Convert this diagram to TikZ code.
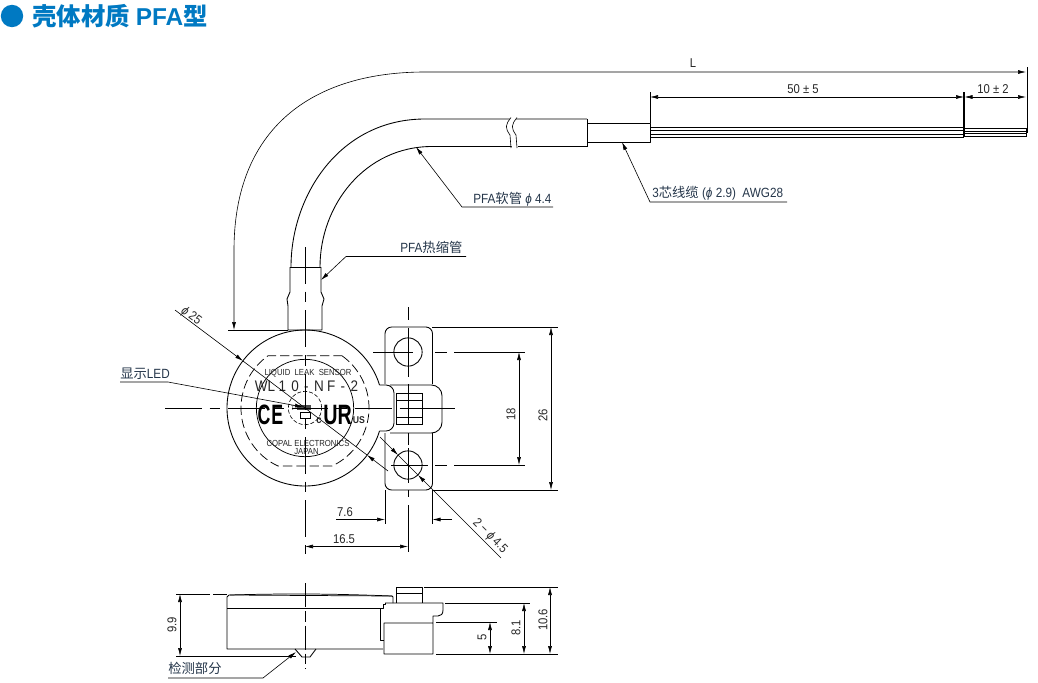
\documentclass[tikz,border=0pt]{standalone}
\usepackage{fontspec}
\setmainfont{Liberation Sans}[FakeStretch=0.88]
\newfontfamily\titlefont{Liberation Sans}
\newfontfamily\cjk{Noto Sans CJK SC}
\usetikzlibrary{arrows.meta}
\definecolor{brand}{HTML}{0079C2}
\definecolor{labelink}{HTML}{25364A}
\newcommand{\phisym}{\textit{ϕ}}
\tikzset{
  part/.style={draw=black,line width=0.65pt,line join=round},
  thin part/.style={draw=black,line width=0.45pt},
  dimline/.style={draw=black,line width=0.45pt},
  dimboth/.style={dimline,{Latex[length=6pt,width=3pt]}-{Latex[length=6pt,width=3pt]}},
  dimend/.style={dimline,-{Latex[length=6pt,width=3pt]}},
  centerline/.style={draw=black,line width=0.45pt,dash pattern=on 27.5pt off 6pt on 8pt off 6pt},
  hidden/.style={draw=black,line width=0.55pt,dash pattern=on 7pt off 3pt},
  lbl/.style={text=labelink,font=\fontsize{10}{10}\selectfont,inner sep=0pt},
  dimtxt/.style={text=black!85,font=\fontsize{9.6}{10}\selectfont,inner sep=0pt},
  sensortext/.style={text=black!85,font=\fontsize{6.6}{7}\selectfont,inner sep=0pt}
}
\begin{document}
\begin{tikzpicture}[x=0.75pt,y=-0.75pt]
\useasboundingbox (0,0) rectangle (1038,682);
% title
\fill[brand] (12,16) circle (8.4pt);
\node[anchor=west,text=brand,inner sep=0pt,font=\fontsize{18.3}{20}\selectfont\bfseries] (title) at (32,16) {{\cjk 壳体材质} {\titlefont PFA}{\cjk 型}};

% outer L dimension
\draw[dimline,{Latex[length=6pt,width=3pt]}-{Latex[length=6pt,width=3pt]}] (234,330) -- (234,250) .. controls (234,130) and (310,72) .. (425,72) -- (1026,72);
\draw[dimline] (228,330) -- (288,330);
\draw[dimline] (1027,67) -- (1027,133);
\node[dimtxt] (tL) at (693,63) {L};

% cable
\draw[part] (291,267) .. controls (291,195) and (340,119) .. (425,119) -- (587,119);
\draw[part] (320,267) .. controls (320,205) and (365,146.5) .. (432,146.5) -- (587,146.5);
\draw[part] (587,119) -- (587,146.5);
\fill[white] (511,117.5) .. controls (505,125) and (505,128) .. (510,135) -- (512,148) -- (518,148) -- (516,135) .. controls (511,128) and (511,125) .. (517,117.5) -- cycle;
\draw[thin part] (511,117.5) .. controls (505,125) and (505,128) .. (510,135) -- (511,148);
\draw[thin part] (517,117.5) .. controls (511,125) and (511,128) .. (516,135) -- (517,148);
\draw[part] (587,123) rectangle (650,142);
\foreach \yy in {127,130,134,137}{\draw[thin part] (650,\yy) -- (964,\yy);}
\foreach \yy in {128.5,131,133.5,136}{\draw[thin part] (964,\yy) -- (1026,\yy);}
\draw[thin part] (1026,128) -- (1026,137);
\draw[line width=0.8pt] (964,92) -- (964,137);
\draw[dimline] (650,92) -- (650,123);

% dims on cable
\draw[dimboth] (650,97) -- (964,97);
\node[dimtxt] (t50) at (803,89) {50 ± 5};
\draw[dimboth] (964.5,97) -- (1026,97);
\node[dimtxt] (t10) at (993,89) {10 ± 2};

% leaders
\node[lbl,anchor=base west] (tpfa) at (473,203) {PFA{\cjk 软管} \phisym\ 4.4};
\draw[dimend] (553,207) -- (462,207) -- (416,147);
\node[lbl,anchor=base west] (t3c) at (652,197) {3{\cjk 芯线缆} (\phisym\ 2.9)\ \ AWG28};
\draw[dimend] (787,202) -- (650,202) -- (622,142);
\node[lbl,anchor=base west] (theat) at (400,252) {PFA{\cjk 热缩管}};
\draw[dimend] (466,256.5) -- (346,256.5) -- (321,280);

% shrink tube
\draw[part] (290,267) -- (321,267);
\draw[part] (290,267) -- (290,292) .. controls (290,295) and (287,296) .. (287,299) .. controls (287,302) and (288,303) .. (288,306) -- (288,330) -- (322,330) -- (322,306) .. controls (322,303) and (324,302) .. (324,299) .. controls (324,296) and (321,295) .. (321,292) -- (321,267);

% main circle
\draw[part] plot[smooth,domain=-163:163,samples=90,variable=\t] ({305-78*cos(\t)},{408+78*sin(\t)});
\draw[thin part,line width=0.55pt] (305,408) circle (36.5pt);
\draw[hidden] plot[domain=-54.6:65,samples=40,variable=\t] ({305+64*cos(\t)},{408+64*sin(\t)}) -- plot[domain=115:234.6,samples=40,variable=\t] ({305+64*cos(\t)},{408+64*sin(\t)}) -- cycle;
\draw[thin part,dash pattern=on 3pt off 1.5pt] (305,408) circle (12.5pt);
\draw[thin part] (300,412) rectangle (310,418);
\fill[black!70] (297,405) rectangle (311,410);

% marks on label
\node[sensortext] (m1) at (308,373.5) {LIQUID\ \ LEAK\ \ SENSOR};
\node[sensortext,font=\fontsize{11.5}{12}\selectfont] (m2) at (306.5,386.5) {WL\hspace{2.5pt}1\hspace{4pt}0\hspace{4pt}-\hspace{4pt}N\hspace{2.5pt}F\hspace{4pt}-\hspace{4pt}2};
\node[inner sep=0pt,xscale=0.72,font=\fontsize{21}{22}\selectfont\bfseries] (mce) at (270.5,415) {C\hspace{1pt}E};
\node[inner sep=0pt,xscale=0.8,font=\fontsize{21}{22}\selectfont\bfseries] (mur) at (337.5,415) {UR};
\node[sensortext,font=\fontsize{8}{8}\selectfont\bfseries] (mc) at (319,421) {c};
\node[sensortext,font=\fontsize{7.4}{8}\selectfont\bfseries] (mus) at (359,420.5) {US};
\node[sensortext] (m3) at (308,443) {COPAL ELECTRONICS};
\node[sensortext] (m4) at (306.5,452) {JAPAN};
\node[sensortext,font=\fontsize{5}{5}\selectfont] (mt) at (293,408) {T};

% clip
\draw[part,rounded corners=5pt] (385,384) -- (385,327) -- (432.5,327) -- (432.5,384);
\draw[part,rounded corners=5pt] (385,433) -- (385,490) -- (432.5,490) -- (432.5,433);
\draw[part,rounded corners=6pt] (380,385) -- (394,385) -- (394,431) -- (380,431);
\draw[part,rounded corners=8pt] (390,385) -- (442,385) -- (442,433) -- (390,433);
\draw[thin part] (396,393) rectangle (422,424);
\draw[thin part] (396,400) -- (422,400);
\draw[thin part] (396,417) -- (422,417);
\draw[thin part] (400,408) -- (418,408);
\draw[part] (408,352) circle (10.6pt);
\draw[part] (408,465) circle (10.6pt);

% centre lines
\draw[centerline] (305,247) -- (305,554);
\draw[centerline] (165,408) -- (456,408);
\draw[dimline] (408,307) -- (408,320) (408,328) -- (408,377) (408,384) -- (408,425) (408,433) -- (408,445) (408,448) -- (408,483) (408,490) -- (408,497) (408,505) -- (408,552);
\draw[dimline] (373,352) -- (413,352) (435,352) -- (447,352) (454,352) -- (525,352);
\draw[dimline] (391,465) -- (428,465) (435,465) -- (447,465) (454,465) -- (525,465);

% dims of plan view
\draw[dimboth] (519,352) -- (519,465);
\node[dimtxt,rotate=90] (t18) at (511,414) {18};
\draw[dimline] (432,327) -- (558,327);
\draw[dimline] (432,490) -- (558,490);
\draw[dimboth] (551,327) -- (551,490);
\node[dimtxt,rotate=90] (t26) at (543,415) {26};
\draw[dimline] (385,490) -- (385,524);
\draw[dimline] (432.5,490) -- (432.5,524);
\draw[dimend] (336,519.5) -- (385,519.5);
\draw[dimend] (452,519.5) -- (432.5,519.5);
\node[dimtxt] (t76) at (345,512.5) {7.6};
\draw[dimboth] (305,546.5) -- (408,546.5);
\node[dimtxt] (t165) at (344,539) {16.5};

% phi 25
\coordinate (p25a) at (175,310);
\coordinate (p25t) at (243,361);
\coordinate (p25b) at (367,455);
\coordinate (p25c) at (388,471);
\draw[dimend] (p25a) -- (p25t);
\draw[dimline] (p25t) -- (p25b);
\draw[dimend] (p25c) -- (p25b);
\node[dimtxt,rotate=-37] (t25) at (191,316) {\phisym\ 25};

% phi 4.5
\coordinate (h1) at (380,437);
\coordinate (h2) at (398,455);
\coordinate (h3) at (418,475);
\coordinate (h4) at (501,558);
\draw[dimend] (h1) -- (h2);
\draw[dimline] (h2) -- (h3);
\draw[dimend] (h4) -- (h3);
\node[dimtxt,rotate=-45] (t45) at (490,536) {2 − \phisym\,4.5};

% LED leader
\node[lbl,anchor=base west] (tled) at (120,378) {{\cjk 显示}LED};
\draw[dimend] (120,382) -- (168,382) -- (303,407);

% side view
\draw[part,line width=0.55pt] (229,595) -- (392,596);
\draw[part,line width=0.55pt] (230,595) .. controls (280,593.5) and (330,593.5) .. (392,596);
\draw[part] (229,595) -- (227,597) -- (227,649) -- (383,649);
\draw[part] (392,596) -- (393,597) -- (393,603);
\draw[part] (227,608) -- (380,608);
\draw[part] (380,608) -- (383,608) -- (383,604) -- (385,604) -- (385,603);
\draw[part] (380,608) -- (380,640) -- (384,640);
\draw[part] (396,603) -- (396,587) -- (422,587) -- (422,603);
\draw[thin part] (396,593) -- (422,593);
\draw[part] (385,603) -- (443,603) -- (443,610) .. controls (443,614) and (441,616) .. (438,616) -- (433,616) -- (433,654) -- (384,654) -- (384,623) -- (433,623);
\draw[part] (295,649) -- (302,657) -- (310,657) -- (316,649);
\draw[centerline,dash pattern=on 18pt off 3pt on 8pt off 3pt] (305,583) -- (305,669);

% side dims
\draw[dimline] (176,594) -- (210,594);
\draw[dimline] (213,594) -- (227,594);
\draw[dimline] (176,656) -- (296,656);
\draw[dimboth] (180,594) -- (180,656);
\node[dimtxt,rotate=90] (t99) at (172,625) {9.9};
\draw[dimline] (424,587) -- (558,587);
\draw[dimline] (436,654) -- (558,654);
\draw[dimboth] (550,587) -- (550,654);
\node[dimtxt,rotate=90] (t106) at (543,620) {10.6};
\draw[dimline] (445,603) -- (530,603);
\draw[dimboth] (524,603) -- (524,654);
\node[dimtxt,rotate=90] (t81) at (516,628) {8.1};
\draw[dimline] (436,622) -- (497,622);
\draw[dimboth] (490,622) -- (490,654);
\node[dimtxt,rotate=90] (t5) at (482,637) {5};
\node[lbl,anchor=base west] (tdet) at (168,673) {{\cjk 检测部分}};
\draw[dimend] (168,678) -- (263,678) -- (296,652);
\end{tikzpicture}
\end{document}
